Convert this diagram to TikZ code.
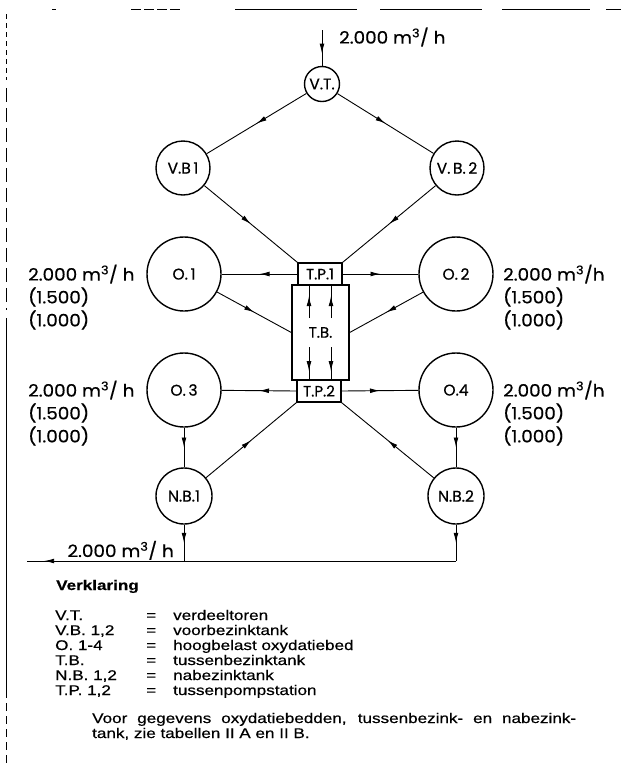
\documentclass[tikz,border=0pt]{standalone}
\usepackage{fontspec}
\setmainfont{Liberation Sans}[FakeStretch=1.22,FakeBold=0.5]
\newfontfamily\diafont{Poppins}[FakeBold=0.6]
\newfontfamily\qtyfont{Poppins}[FakeStretch=1.08,FakeBold=0.6]
\usetikzlibrary{arrows.meta,decorations.markings}
\tikzset{
  tank/.style={circle,draw,line width=1.4pt,inner sep=0pt,font=\diafont\fontsize{15.5}{15.5}\selectfont},
  box/.style={rectangle,draw,line width=1.4pt,inner sep=0pt,font=\diafont\fontsize{15}{15}\selectfont},
  flow/.style={line width=0.9pt},
  midarrow/.style={flow,postaction={decorate},decoration={markings,mark=at position #1 with {\arrow{Latex[length=10pt,width=4.8pt]}}}},
  midarrow/.default=0.5,
  qty/.style={font=\qtyfont\fontsize{17}{17}\selectfont,inner sep=0pt,anchor=west},
  legend/.style={font=\fontsize{14}{14}\selectfont,inner sep=0pt,anchor=base west},
  frame/.style={line width=0.9pt},
}
\begin{document}
\begin{tikzpicture}[x=1pt,y=-1pt]
\useasboundingbox (0,0) rectangle (621,764);
% scanned frame remnants
\draw[frame] (52,9) -- (56,9);
\draw[frame,dash pattern=on 10pt off 3pt] (131,9) -- (183,9);
\draw[frame] (235,9) -- (357,9);
\draw[frame] (380,9) -- (482,9);
\draw[frame] (502,9) -- (590,9);
\draw[frame] (606,9) -- (621,9);
\draw[frame,dash pattern=on 5pt off 4pt] (6,14) -- (6,80);
\draw[frame,dash pattern=on 14pt off 6pt] (6,88) -- (6,310);
\draw[frame] (6,318) -- (6,690);
\draw[frame,dash pattern=on 8pt off 5pt] (6,690) -- (6,764);

% tanks
\node[tank,minimum size=35pt] (vt) at (322,84) {V.T.};
\node[tank,minimum size=54pt] (vb1) at (183,168) {V.B\,1};
\node[tank,minimum size=54pt] (vb2) at (457,168) {V.\,B.\,2};
\node[tank,minimum size=74pt] (o1) at (184,274) {O.\,1};
\node[tank,minimum size=74pt] (o2) at (456,274) {O.\,2};
\node[tank,minimum size=74pt] (o3) at (184,390) {O.\,3};
\node[tank,minimum size=74pt] (o4) at (456,390) {O.4};
\node[tank,minimum size=56pt] (nb1) at (184,496) {N.B.1};
\node[tank,minimum size=56pt] (nb2) at (456,496) {N.B.2};

% central units
\node[box,minimum width=57pt,minimum height=95pt] (tb) at (320.5,332.5) {T.B.};
\node[box,minimum width=44pt,minimum height=22pt] (tp1) at (320,274) {T.P.1};
\node[box,minimum width=44pt,minimum height=22pt] (tp2) at (319,391) {T.P.2};

% arrows inside T.B.
\coordinate (u1) at (309,318);
\coordinate (u2) at (331,318);
\coordinate (d1) at (309,347);
\coordinate (d2) at (331,347);
\draw[midarrow=0.68] (u1) -- (u1 |- tp1.south);
\draw[midarrow=0.68] (u2) -- (u2 |- tp1.south);
\draw[midarrow=0.75] (d1) -- (d1 |- tp2.north);
\draw[midarrow=0.75] (d2) -- (d2 |- tp2.north);

% flows
\coordinate (in) at (322,30);
\draw[midarrow=0.66] (in) -- (vt);
\draw[midarrow] (vt) -- (vb1);
\draw[midarrow] (vt) -- (vb2);
\draw[midarrow] (vb1) -- (tp1.north west);
\draw[midarrow] (vb2) -- (tp1.north east);
\draw[midarrow] (tp1.west) -- (o1);
\draw[midarrow] (tp1.east) -- (o2);
\draw[midarrow] (o1) -- (tb.west);
\draw[midarrow] (o2) -- (tb.east);
\draw[midarrow] (tp2.west) -- (o3);
\draw[midarrow] (tp2.east) -- (o4);
\draw[midarrow] (o3) -- (nb1);
\draw[midarrow] (o4) -- (nb2);
\draw[midarrow] (nb1) -- (tp2.south west);
\draw[midarrow] (nb2) -- (tp2.south east);
\coordinate (j1) at (184,561);
\coordinate (j2) at (456,561);
\coordinate (out) at (27,561);
\draw[midarrow] (nb1) -- (j1);
\draw[midarrow] (nb2) -- (j2);
\draw[midarrow=0.96] (j2) -- (out);

% quantities
\node[qty] (qin) at (339,37) {2.000 m\textsuperscript{3}/ h};
\node[qty] (ql1) at (28,274) {2.000 m\textsuperscript{3}/ h};
\node[qty] (ql2) at (28,297) {(1.500)};
\node[qty] (ql3) at (28,320) {(1.000)};
\node[qty] (qr1) at (503,274) {2.000 m\textsuperscript{3}/h};
\node[qty] (qr2) at (503,297) {(1.500)};
\node[qty] (qr3) at (503,320) {(1.000)};
\node[qty] (ql4) at (28,390) {2.000 m\textsuperscript{3}/ h};
\node[qty] (ql5) at (28,413) {(1.500)};
\node[qty] (ql6) at (28,436) {(1.000)};
\node[qty] (qr4) at (503,390) {2.000 m\textsuperscript{3}/h};
\node[qty] (qr5) at (503,413) {(1.500)};
\node[qty] (qr6) at (503,436) {(1.000)};
\node[qty,anchor=base east] (qout) at (174,557) {2.000 m\textsuperscript{3}/ h};

% legend
\node[legend,font=\bfseries\fontsize{14}{14}\selectfont] (vk) at (56,590) {Verklaring};
\foreach \ab/\de [count=\i] in {V.T./verdeeltoren, V.B. 1{,}2/voorbezinktank, O. 1-4/hoogbelast oxydatiebed, T.B./tussenbezinktank, N.B. 1{,}2/nabezinktank, T.P. 1{,}2/tussenpompstation}{
  \node[legend] (ab\i) at (55,605+15*\i) {\ab};
  \node[legend] (eq\i) at (146,605+15*\i) {=};
  \node[legend] (de\i) at (173,605+15*\i) {\de};
}
\node[legend] (n1) at (92,723) {\makebox[484pt][s]{Voor gegevens oxydatiebedden, tussenbezink- en nabezink-}};
\node[legend] (n2) at (92,738) {tank, zie tabellen II A en II B.};
\end{tikzpicture}
\end{document}
